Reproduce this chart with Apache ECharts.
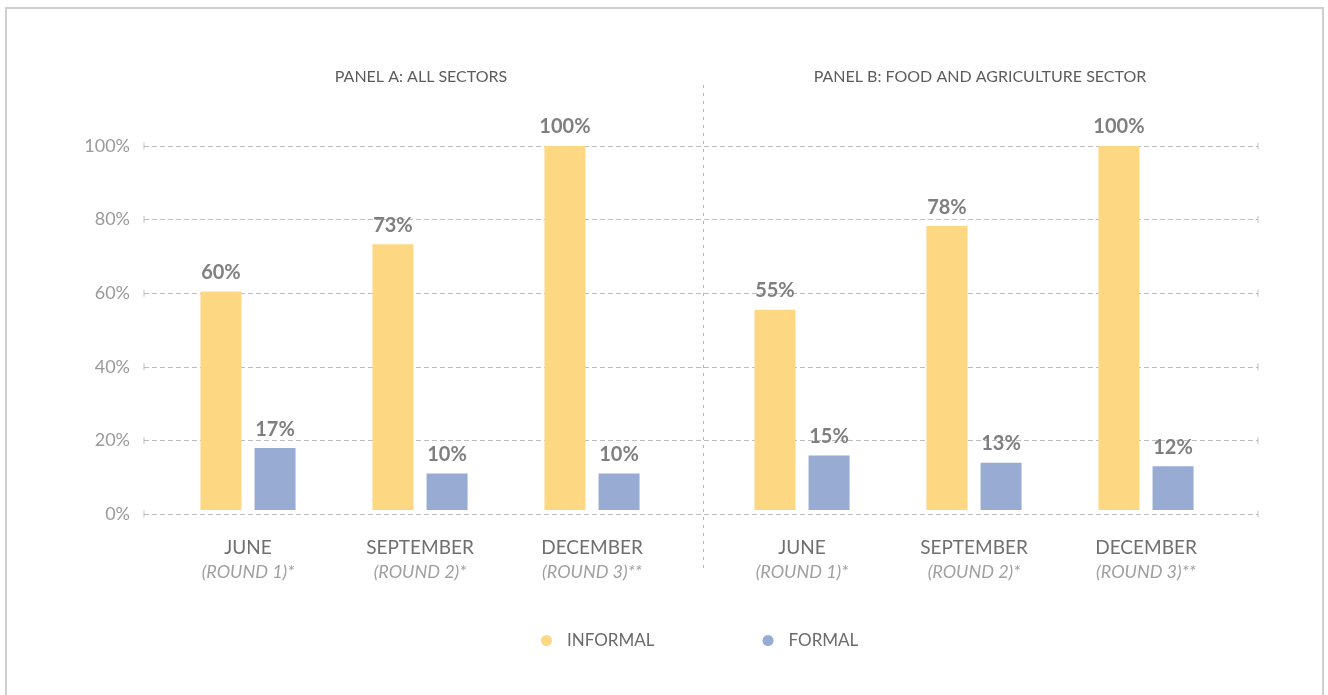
<!DOCTYPE html>
<html>
<head>
<meta charset="utf-8">
<script src="https://cdn.jsdelivr.net/npm/echarts@6/dist/echarts.min.js"></script>
<style>
html, body { margin: 0; padding: 0; background: #fff; overflow: hidden; }
#frame { position: absolute; left: 5px; top: 7px; width: 1319px; height: 720px; border: 2px solid #cfcfcf; box-sizing: border-box; }
#chart { position: absolute; left: 0; top: 0; width: 1328px; height: 695px; }
</style>
</head>
<body>
<div id="frame"></div>
<div id="chart"></div>
<script>
const months = ['JUNE', 'SEPTEMBER', 'DECEMBER'];
const rounds = ['(ROUND 1)*', '(ROUND 2)*', '(ROUND 3)**'];
const yTicks = [0, 20, 40, 60, 80, 100];
const seriesNames = ['INFORMAL', 'FORMAL'];
const panelTitles = ['PANEL A: ALL SECTORS', 'PANEL B: FOOD AND AGRICULTURE SECTOR'];
const panelAInformal = [60, 73, 100];
const panelAFormal = [17, 10, 10];
const panelBInformal = [55, 78, 100];
const panelBFormal = [15, 13, 12];

const FONT = 'Lato, "Open Sans", sans-serif';
const YELLOW = '#fdd782';
const BLUE = '#97abd3';

window.onload = function() {
    drawChart();
}

function catAxis(gridIndex) {
    return {
        type: 'category',
        gridIndex: gridIndex,
        data: months.map((m, i) => m + '\n' + rounds[i]),
        axisLine: { show: false },
        axisTick: { show: false },
        axisLabel: {
            margin: 25,
            fontFamily: FONT,
            formatter: function(v) {
                let parts = v.split('\n');
                return '{m|' + parts[0] + '}\n{r|' + parts[1] + '}';
            },
            rich: {
                m: { fontSize: 19, color: '#6f6f6f', lineHeight: 25, fontFamily: FONT },
                r: { fontSize: 18, color: '#a0a0a0', fontStyle: 'italic', lineHeight: 25, fontFamily: FONT }
            }
        }
    };
}

function valAxis(gridIndex, visible) {
    return {
        type: 'value',
        gridIndex: gridIndex,
        min: 0,
        max: 100,
        interval: 20,
        show: visible,
        axisLine: { show: false },
        axisTick: { show: false },
        axisLabel: {
            show: visible,
            margin: 14,
            color: '#9a9a9a',
            fontSize: 18,
            fontFamily: FONT,
            formatter: v => yTicks.indexOf(v) >= 0 ? v + '%' : ''
        },
        splitLine: {
            show: visible,
            lineStyle: { color: '#bdbdbd', type: [5, 3], width: 1 }
        }
    };
}

function barSeries(name, data, idx, color) {
    return {
        name: name,
        type: 'bar',
        xAxisIndex: idx,
        yAxisIndex: idx,
        data: data,
        barWidth: 41,
        barGap: '32%',
        itemStyle: { color: color },
        label: {
            show: true,
            position: 'top',
            distance: 9,
            formatter: '{c}%',
            color: '#7f7f7f',
            fontWeight: 'bold',
            fontSize: 20,
            fontFamily: FONT
        }
    };
}

function drawChart() {
    var dom = document.getElementById('chart');
    var myChart = echarts.init(dom);
    // small end ticks on each gridline
    let endTicks = [];
    yTicks.forEach(v => { endTicks.push([0, v]); endTicks.push([1, v]); });
    let option = {
        animation: false,
        title: [
            {
                text: panelTitles[0],
                left: 416,
                top: 64,
                textAlign: 'center',
                textStyle: { color: '#5c5c5c', fontWeight: 'normal', fontSize: 16, fontFamily: FONT }
            },
            {
                text: panelTitles[1],
                left: 975,
                top: 64,
                textAlign: 'center',
                textStyle: { color: '#5c5c5c', fontWeight: 'normal', fontSize: 16, fontFamily: FONT }
            }
        ],
        legend: {
            data: seriesNames,
            left: 536,
            top: 627,
            icon: 'circle',
            itemWidth: 11,
            itemHeight: 11,
            itemGap: 108,
            textStyle: { color: '#6a6a6a', fontSize: 17, fontFamily: FONT, padding: [0, 0, 0, 10] }
        },
        grid: [
            { left: 144, right: 70, top: 146, bottom: 181 },
            { left: 162, right: 650, top: 146, bottom: 185 },
            { left: 716, right: 96, top: 146, bottom: 185 }
        ],
        xAxis: [
            { type: 'value', gridIndex: 0, min: 0, max: 1, show: false },
            catAxis(1),
            catAxis(2)
        ],
        yAxis: [
            valAxis(0, true),
            valAxis(1, false),
            valAxis(2, false)
        ],
        graphic: [
            {
                type: 'line',
                shape: { x1: 703.5, y1: 85, x2: 703.5, y2: 570 },
                style: { stroke: '#b5b5b5', lineWidth: 1, lineDash: [3, 5] },
                silent: true
            }
        ],
        series: [
            {
                type: 'scatter',
                xAxisIndex: 0,
                yAxisIndex: 0,
                data: endTicks,
                symbol: 'rect',
                symbolSize: [1, 7],
                itemStyle: { color: '#b0b0b0' },
                silent: true
            },
            barSeries(seriesNames[0], panelAInformal, 1, YELLOW),
            barSeries(seriesNames[1], panelAFormal, 1, BLUE),
            barSeries(seriesNames[0], panelBInformal, 2, YELLOW),
            barSeries(seriesNames[1], panelBFormal, 2, BLUE)
        ]
    };
    myChart.setOption(option, true);
}
</script>
</body>
</html>
